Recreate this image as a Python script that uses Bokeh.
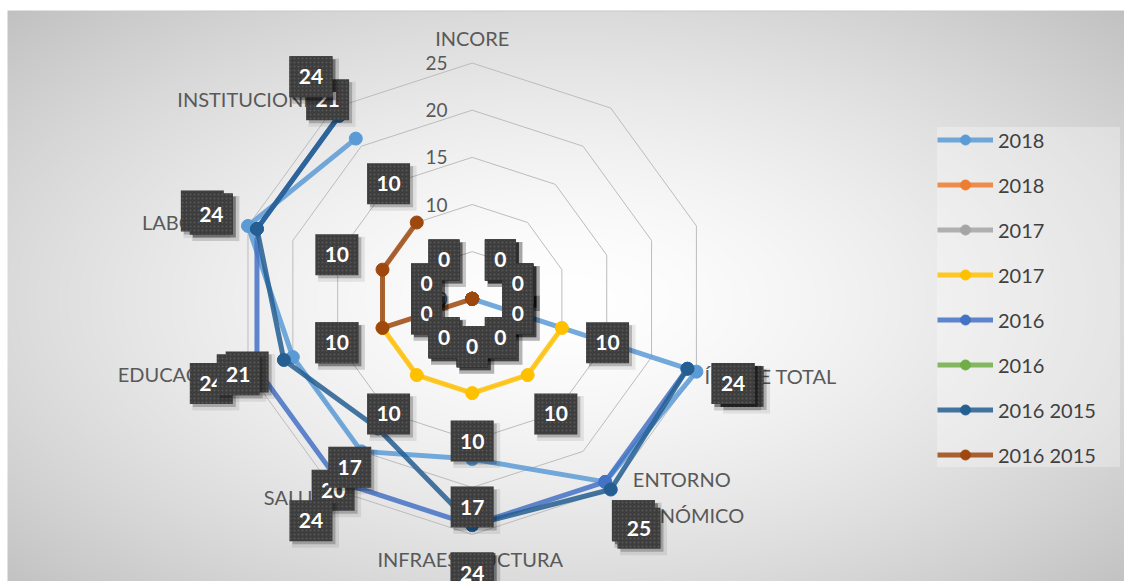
import math
import numpy as np
from bokeh.plotting import figure
from bokeh.models import Range1d, Legend, LegendItem
from bokeh.core.properties import value
from bokeh.embed import file_html
from bokeh.resources import INLINE

nan = float("nan")

# ---------------- data ----------------
categories = ["INCORE", "", "", "ÍNDICE TOTAL", "ENTORNO\nECONÓMICO", "INFRAESTRUCTURA",
              "SALUD", "EDUCACIÓN", "LABORAL", "INSTITUCIONES"]
series_names = ["2018", "2018", "2017", "2017", "2016", "2016", "2016 2015", "2016 2015"]
s2018_a = [nan, 0, 0, 25, 24, 17, 20, 20, 25, 21]
s2018_b = [nan, 0, 0, 0, 0, 0, 0, 0, 0, 0]
s2017_a = [nan, 0, 0, 0, 0, 0, 0, 0, 0, 0]
s2017_b = [nan, nan, nan, 10, 10, 10, 10, 10, nan, nan]
s2016_a = [nan, nan, nan, 24, 24, 24, 24, 24, 24, 24]
s2016_b = [nan, 0, 0, 0, 0, 0, 0, 0, 0, 0]
s1615_a = [nan, nan, nan, 24, 25, 24, 17, 21, 24, 24]
s1615_b = [nan, 0, 0, 0, 0, 0, 0, 10, 10, 10]
series_values = [s2018_a, s2018_b, s2017_a, s2017_b, s2016_a, s2016_b, s1615_a, s1615_b]
series_colors = ["#5B9BD5", "#ED7D31", "#A5A5A5", "#FFC000", "#4472C4", "#70AD47", "#255E91", "#9E480E"]
ticks = [0, 5, 10, 15, 20, 25]

# ---------------- geometry ----------------
W, H = 1124, 581
S = 9.43                 # pixels per value unit
CX, CY = 471.7, 298.3    # radar centre in figure pixels (from top-left)
N = len(categories)
theta = [2 * math.pi * k / N for k in range(N)]
dx_dir = [math.sin(t) for t in theta]
dy_dir = [math.cos(t) for t in theta]

x0, x1 = -CX / S, (W - CX) / S
y0, y1 = -(H - CY) / S, CY / S

p = figure(width=W, height=H, x_range=Range1d(x0, x1), y_range=Range1d(y0, y1),
           output_backend="svg", toolbar_location=None, min_border=0,
           x_axis_location=None, y_axis_location=None)
p.grid.visible = False
p.outline_line_color = None
p.background_fill_color = "white"
p.border_fill_color = "white"

# background radial gradient (chart area starts at x=7, y=10)
yy, xx = np.mgrid[0:H, 0:W]
t = np.sqrt(((xx - 566) / 560.0) ** 2 + ((yy - 300) / 290.0) ** 2)
g = 255 - 62 * np.clip(t / 1.414, 0, 1) ** 1.5
g[:10, :] = 255
g[:, :7] = 255
g[10, 7:] = np.minimum(g[10, 7:], 200)
img = np.zeros((H, W), dtype=np.uint32)
view = img.view(dtype=np.uint8).reshape((H, W, 4))
view[:, :, 0] = g
view[:, :, 1] = g
view[:, :, 2] = g
view[:, :, 3] = 255
p.image_rgba(image=[img[::-1].copy()], x=x0, y=y0, dw=x1 - x0, dh=y1 - y0)

# rings
ring_xs, ring_ys = [], []
for v in ticks[1:]:
    ring_xs.append([v * dx_dir[k % N] for k in range(N + 1)])
    ring_ys.append([v * dy_dir[k % N] for k in range(N + 1)])
p.multi_line(ring_xs, ring_ys, line_color="#bcbcbc", line_width=1)

# radial tick labels
p.text(x=[-24.7 / S] * len(ticks), y=ticks, text=[str(v) for v in ticks],
       text_font=value("Lato"), text_font_size="19px", text_color="#595959",
       text_align="right", text_baseline="middle")

# category labels
cat_align = ["center", "left", "left", "left", "center", "center", "right", "right", "right", "right"]
cat_dx = [0, 0, 0, 8, 71, -2, -6, -12, -17, -8]
cat_dy = [-25, 0, 0, 4, 7.5, 24, 7, 2, -4, -8.6]
R = ticks[-1]
for al in ("left", "center", "right"):
    idx = [k for k in range(N) if cat_align[k] == al and categories[k]]
    p.text(x=[R * dx_dir[k] + cat_dx[k] / S for k in idx],
           y=[R * dy_dir[k] - cat_dy[k] / S for k in idx],
           text=[categories[k] for k in idx],
           text_font=value("Lato"), text_font_size="20px", text_color="#595959",
           text_align=al, text_baseline="middle", text_line_height=1.5)

# series
items = []
for name, vals, col in zip(series_names, series_values, series_colors):
    vv = list(vals) + [vals[0]]
    xs = [v * dx_dir[k % N] for k, v in enumerate(vv)]
    ys = [v * dy_dir[k % N] for k, v in enumerate(vv)]
    lr = p.line(xs, ys, line_color=col, line_width=5, line_alpha=0.85)
    sr = p.scatter(xs[:-1], ys[:-1], size=13, marker="circle", fill_color=col, line_color=col)
    items.append(LegendItem(label=value(name), renderers=[lr, sr]))

# data labels
off = 48 / S
for vals in series_values:
    idx = [k for k in range(N) if not math.isnan(vals[k])]
    if not idx:
        continue
    lx = [(vals[k] + off) * dx_dir[k] for k in idx]
    ly = [(vals[k] + off) * dy_dir[k] for k in idx]
    txt = [str(int(vals[k])) for k in idx]
    wid = [19 + 12 * len(s) for s in txt]
    p.rect([x + 4.5 / S for x in lx], [y - 4.5 / S for y in ly],
           width=[w + 4 for w in wid], height=45, width_units="screen", height_units="screen",
           fill_color="black", fill_alpha=0.08, line_color=None)
    p.rect([x + 3 / S for x in lx], [y - 3 / S for y in ly],
           width=wid, height=41, width_units="screen", height_units="screen",
           fill_color="black", fill_alpha=0.22, line_color=None)
    p.rect(lx, ly, width=wid, height=41, width_units="screen", height_units="screen",
           fill_color="#3d3d3d", line_color=None,
           hatch_pattern="dot", hatch_color="#6a6a6a", hatch_scale=4, hatch_weight=1, hatch_alpha=0.6)
    p.text(lx, ly, text=txt, text_font=value("Lato"), text_font_style="bold",
           text_font_size="21px", text_color="white", text_align="center", text_baseline="middle")

legend = Legend(items=items, location=(937, H - 467), padding=10, spacing=20,
                glyph_height=25, glyph_width=56, label_height=25, label_width=122, label_standoff=5,
                label_text_font="Lato", label_text_font_size="20px", label_text_color="#404040",
                background_fill_color="white", background_fill_alpha=0.3,
                border_line_color=None, margin=0)
p.add_layout(legend)

open("out.html", "w").write(file_html(p, INLINE))
